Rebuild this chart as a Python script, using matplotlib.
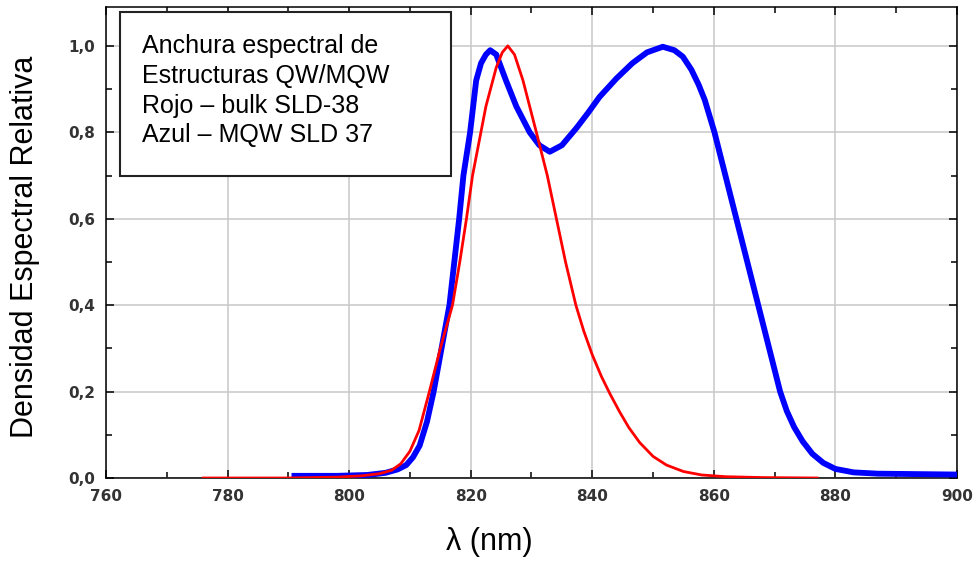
import matplotlib
matplotlib.use("Agg")
import matplotlib.pyplot as plt
from matplotlib.patches import Rectangle
from matplotlib.ticker import MultipleLocator, FuncFormatter

# Azul - MQW SLD 37 (wavelength nm, relative density)
blue_wl = [791, 798, 803, 806, 808, 809.4, 810.5, 811.6, 812.8, 813.9,
           815.2, 816.5, 817.3, 818.1, 818.8, 819.9, 820.9, 821.7, 822.5, 823.2,
           824.2, 825.0, 825.8, 827.5, 829.7, 831.3, 833.0, 835.0, 837.4, 839.3,
           841.2, 844.0, 846.6, 849.0, 851.6, 853.5, 854.9, 856.3, 857.5, 858.5,
           860.1, 863.7, 867.3, 870.9, 872.0, 873.2, 874.6, 876.2, 878.0, 880.0,
           883.0, 887.0, 900]
blue_val = [0.005, 0.005, 0.007, 0.012, 0.02, 0.03, 0.048, 0.075, 0.13, 0.2,
            0.3, 0.4, 0.5, 0.6, 0.7, 0.8, 0.92, 0.96, 0.98, 0.99,
            0.98, 0.95, 0.92, 0.86, 0.8, 0.77, 0.755, 0.77, 0.81, 0.845,
            0.882, 0.925, 0.96, 0.985, 0.998, 0.99, 0.975, 0.945, 0.91, 0.875,
            0.8, 0.6, 0.4, 0.2, 0.155, 0.118, 0.085, 0.056, 0.035, 0.021,
            0.013, 0.01, 0.008]

# Rojo - bulk SLD-38
red_wl = [776, 790, 798, 802, 805, 807.0, 808.5, 810.0, 811.5, 813.2,
          815.0, 817.0, 818.2, 819.3, 820.3, 821.4, 822.5, 824.2, 825.2, 826.1,
          827.2, 828.6, 829.7, 830.8, 832.6, 834.1, 835.6, 837.3, 838.6, 840.0,
          841.5, 842.9, 844.5, 846.0, 847.8, 850.0, 852.2, 855.0, 858.0, 862.0,
          868.0, 877.0]
red_val = [0.0, 0.0, 0.002, 0.005, 0.01, 0.018, 0.033, 0.062, 0.11, 0.2,
           0.3, 0.4, 0.5, 0.6, 0.7, 0.78, 0.86, 0.95, 0.985, 1.0,
           0.98, 0.92, 0.86, 0.8, 0.7, 0.6, 0.5, 0.4, 0.34, 0.285,
           0.235, 0.195, 0.153, 0.117, 0.082, 0.05, 0.03, 0.015, 0.007, 0.003,
           0.001, 0.0]

info_lines = ["Anchura espectral de", "Estructuras QW/MQW",
              "Rojo \u2013 bulk SLD-38", "Azul \u2013 MQW SLD 37"]

plt.rcParams["font.family"] = ["Liberation Sans", "DejaVu Sans"]

fig = plt.figure(figsize=(9.79, 5.69), dpi=100)
ax = fig.add_axes([106 / 979, 1 - 478 / 569, 851 / 979, 471 / 569])

ax.plot(blue_wl, blue_val, color="#0000ff", lw=4.2, zorder=3, solid_joinstyle="round")
ax.plot(red_wl, red_val, color="#ff0000", lw=2.0, zorder=4, solid_joinstyle="round")

ax.set_xlim(760, 900)
ax.set_ylim(0, 1.09)
ax.xaxis.set_major_locator(MultipleLocator(20))
ax.xaxis.set_minor_locator(MultipleLocator(10))
ax.yaxis.set_major_locator(MultipleLocator(0.2))
ax.yaxis.set_minor_locator(MultipleLocator(0.1))
ax.yaxis.set_major_formatter(FuncFormatter(lambda v, p: f"{v:.1f}".replace(".", ",")))

ax.grid(True, which="major", color="#c8c8c8", lw=1.1, zorder=0)
ax.set_axisbelow(True)
ax.tick_params(which="both", direction="in", top=True, right=True,
               width=1.1, color="black")
ax.tick_params(which="major", length=6, pad=8, labelsize=11, labelcolor="#333333")
ax.tick_params(which="minor", length=4)
for lab in ax.get_xticklabels() + ax.get_yticklabels():
    lab.set_family("DejaVu Sans")
    lab.set_weight("bold")
for s in ax.spines.values():
    s.set_linewidth(1.1)
    s.set_color("black")

ax.set_ylabel("Densidad Espectral Relativa", fontsize=22)
ax.yaxis.set_label_coords(-0.077, 0.49)
ax.set_xlabel("\u03bb (nm)", fontsize=22)
ax.xaxis.set_label_coords(0.45, -0.105)

# annotation box
ax.add_patch(Rectangle((0.0165, 0.641), 0.3894, 0.3484, transform=ax.transAxes,
                       facecolor="white", edgecolor="#222222", lw=1.5, zorder=5))
ax.text(0.0424, 0.942, "\n".join(info_lines), transform=ax.transAxes,
        ha="left", va="top", fontsize=18, linespacing=1.3, zorder=6)

fig.savefig("out.png", dpi=100)
